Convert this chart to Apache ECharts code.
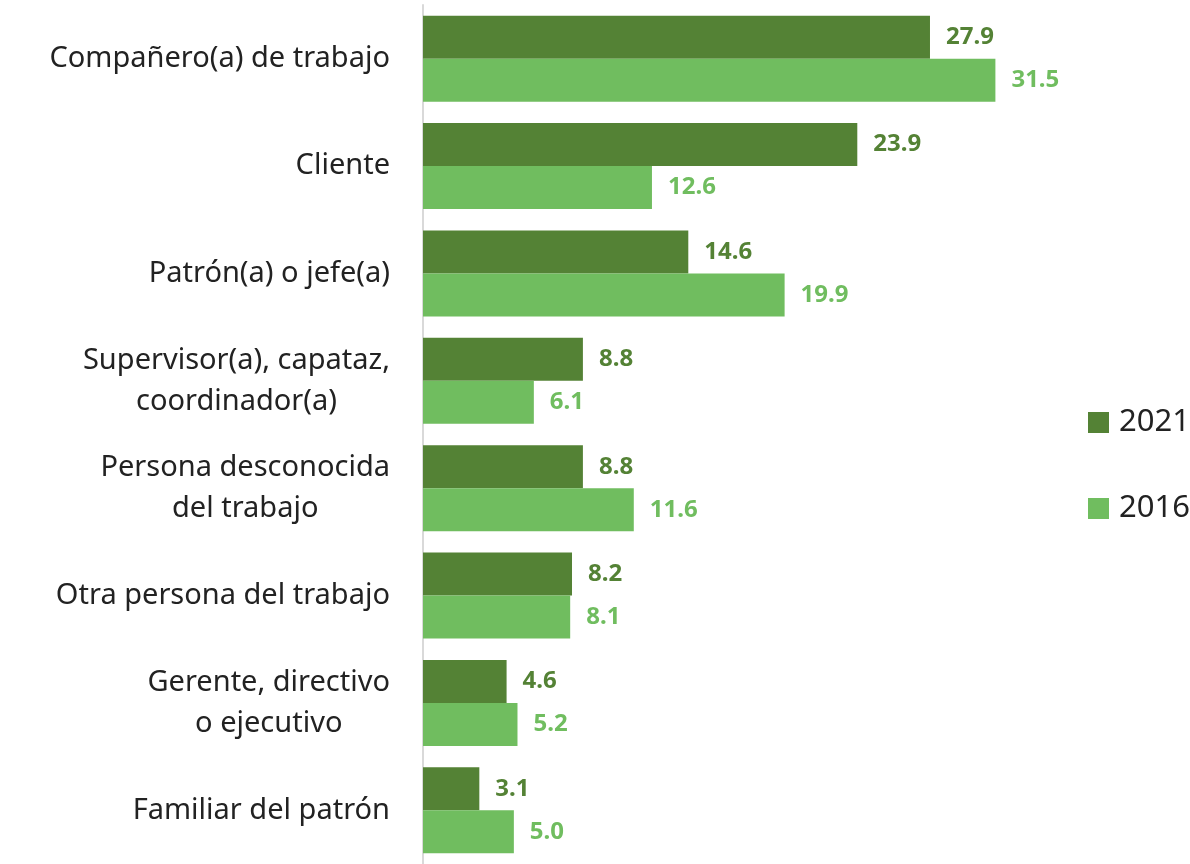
<!DOCTYPE html>
<html>
<head>
<meta charset="utf-8">
<script src="https://cdn.jsdelivr.net/npm/echarts@6/dist/echarts.min.js"></script>
<style>
  html, body { margin: 0; padding: 0; background: #fff; }
  #chart { width: 1190px; height: 864px; }
</style>
</head>
<body>
<div id="chart"></div>
<script>
// categorias (de arriba hacia abajo)
var categories = [
  'Compañero(a) de trabajo',
  'Cliente',
  'Patrón(a) o jefe(a)',
  'Supervisor(a), capataz,\ncoordinador(a)',
  'Persona desconocida\ndel trabajo',
  'Otra persona del trabajo',
  'Gerente, directivo\no ejecutivo',
  'Familiar del patrón'
];
var values2021 = [27.9, 23.9, 14.6, 8.8, 8.8, 8.2, 4.6, 3.1];
var values2016 = [31.5, 12.6, 19.9, 6.1, 11.6, 8.1, 5.2, 5.0];

var darkGreen = '#548235';
var lightGreen = '#70bd5f';
var font = '"Noto Sans", sans-serif';

var chart = echarts.init(document.getElementById('chart'));

function valueLabel(color) {
  return {
    show: true,
    position: 'right',
    distance: 16,
    color: color,
    fontFamily: font,
    fontWeight: 'bold',
    fontSize: 24,
    formatter: function (p) { return p.value.toFixed(1); }
  };
}

chart.setOption({
  animation: false,
  legend: {
    orient: 'vertical',
    left: 1083,
    top: 402,
    itemWidth: 21,
    itemHeight: 21,
    itemGap: 55,
    icon: 'rect',
    textStyle: { fontFamily: font, fontSize: 31, color: '#222', padding: [0, 0, 0, 5] },
    data: ['2021', '2016']
  },
  grid: { left: 423, top: 5, width: 636, height: 862 },
  xAxis: {
    type: 'value',
    min: 0,
    max: 35,
    show: false
  },
  yAxis: {
    type: 'category',
    inverse: true,
    data: categories,
    axisLine: { show: true, lineStyle: { color: '#d9d9d9', width: 2 } },
    axisTick: { show: false },
    axisLabel: {
      margin: 33,
      color: '#222',
      fontFamily: font,
      fontSize: 29,
      lineHeight: 41,
      // cada linea centrada dentro del bloque alineado a la derecha
      formatter: function (v) {
        return v.split('\n').map(function (l) { return '{c|' + l + '}'; }).join('\n');
      },
      rich: {
        c: { align: 'center', fontFamily: font, fontSize: 29, color: '#222', lineHeight: 41 }
      }
    }
  },
  series: [
    {
      name: '2021',
      type: 'bar',
      data: values2021,
      barGap: '0%',
      barCategoryGap: '20%',
      itemStyle: { color: darkGreen },
      label: valueLabel(darkGreen)
    },
    {
      name: '2016',
      type: 'bar',
      data: values2016,
      barGap: '0%',
      barCategoryGap: '20%',
      itemStyle: { color: lightGreen },
      label: valueLabel(lightGreen)
    }
  ]
});
</script>
</body>
</html>
